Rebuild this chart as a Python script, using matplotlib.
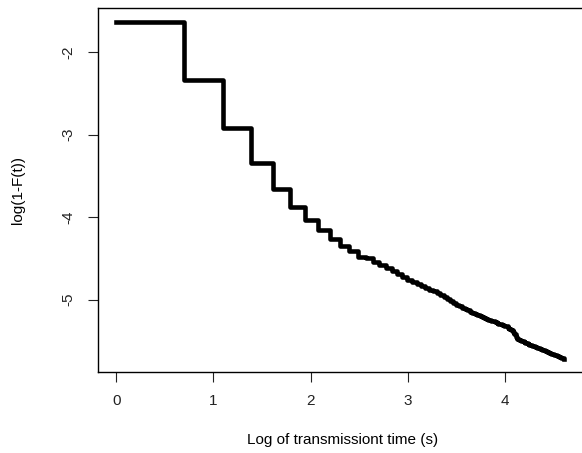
import numpy as np
import matplotlib.pyplot as plt

plt.rcParams['font.family'] = ['Liberation Sans', 'DejaVu Sans']

# Tiempos de transmision (s), enteros de 1 a 100
tiempos = np.arange(1, 101)

log_sobrev = [
    -1.632, -2.345, -2.920, -3.350, -3.660, -3.880, -4.040, -4.160, -4.260, -4.350,
    -4.410, -4.480, -4.500, -4.540, -4.580, -4.615, -4.655, -4.690, -4.725, -4.760,
    -4.785, -4.810, -4.835, -4.860, -4.880, -4.900, -4.925, -4.945, -4.970, -4.995,
    -5.020, -5.045, -5.065, -5.080, -5.100, -5.115, -5.130, -5.145, -5.160, -5.175,
    -5.190, -5.200, -5.210, -5.225, -5.235, -5.245, -5.255, -5.265, -5.275, -5.285,
    -5.295, -5.300, -5.310, -5.318, -5.325, -5.340, -5.355, -5.370, -5.390, -5.420,
    -5.450, -5.475, -5.490, -5.500, -5.507, -5.515, -5.525, -5.530, -5.540, -5.545,
    -5.550, -5.560, -5.565, -5.570, -5.577, -5.583, -5.590, -5.597, -5.603, -5.608,
    -5.614, -5.620, -5.626, -5.632, -5.638, -5.643, -5.649, -5.654, -5.660, -5.665,
    -5.670, -5.676, -5.681, -5.686, -5.692, -5.697, -5.702, -5.707, -5.712, -5.718,
]

x_ticks = [0, 1, 2, 3, 4]
y_ticks = [-2, -3, -4, -5]

fig = plt.figure(figsize=(5.82, 4.53), dpi=100)
# el recuadro se sale por la derecha como en el original
ax = fig.add_axes([0.169, 0.178, 0.839, 0.804])

x = np.log(tiempos)
ax.plot(x, log_sobrev, drawstyle="steps-post", color="black", linewidth=3.3)

# rango estilo R (4% de margen)
rx = x.max() - x.min()
ry = max(log_sobrev) - min(log_sobrev)
ax.set_xlim(x.min() - 0.04 * rx, x.max() + 0.04 * rx + 0.05)
ax.set_ylim(min(log_sobrev) - 0.04 * ry, max(log_sobrev) + 0.04 * ry)

ax.set_xticks(x_ticks)
ax.set_yticks(y_ticks)
ax.set_yticklabels([str(v) for v in y_ticks], rotation=90, va="center")
ax.tick_params(direction="out", length=7, width=0.8, labelsize=11, colors="#222222")
ax.tick_params(axis="x", pad=8.5)
ax.tick_params(axis="y", pad=9.5)
for s in ax.spines.values():
    s.set_linewidth(1.0)

ax.set_xlabel("Log of transmissiont time (s)", fontsize=11, labelpad=18)
ax.set_ylabel("log(1-F(t))", fontsize=11, labelpad=26)

plt.savefig("out.png", dpi=100)
